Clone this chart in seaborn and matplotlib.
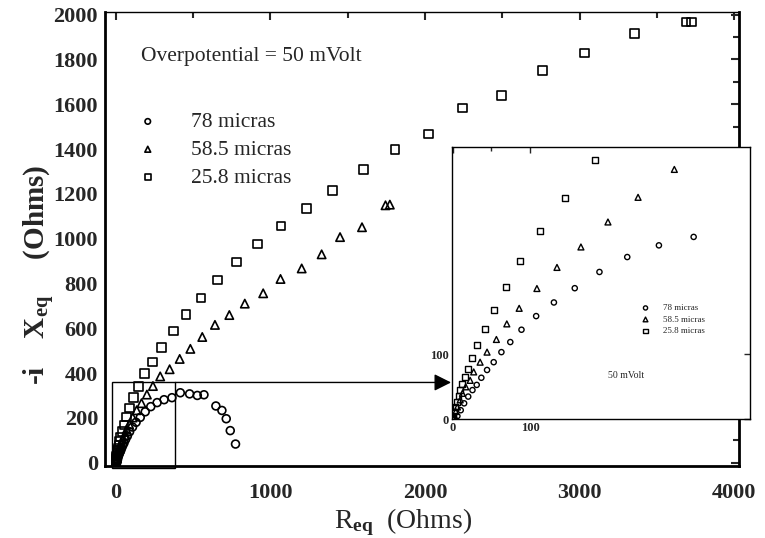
import numpy as np
import pandas as pd
import matplotlib
matplotlib.use('Agg')
import matplotlib.pyplot as plt
import seaborn as sns
from matplotlib.patches import Rectangle
from matplotlib.ticker import MultipleLocator, FixedLocator

sns.set_theme(style='white')
plt.rcParams['font.family'] = ['Liberation Serif', 'DejaVu Serif']
plt.rcParams['mathtext.fontset'] = 'custom'
plt.rcParams['mathtext.rm'] = 'Liberation Serif'
plt.rcParams['mathtext.bf'] = 'Liberation Serif:bold'
plt.rcParams['mathtext.it'] = 'Liberation Serif:italic'
plt.rcParams['axes.edgecolor'] = 'black'

# series names
series = ['78 micras', '58.5 micras', '25.8 micras']

# 78 micras (circulos)
r_78 = [0, 2, 6, 10.3, 14.7, 20, 25.5, 31, 37, 44.4, 53, 63, 74.5, 89, 108, 131, 158, 190,
        226, 267, 312, 363, 417, 477, 527, 570, 647, 686, 714, 740, 774]
x_78 = [0, 1, 5, 14, 24.6, 35, 45, 53, 64, 76, 88, 103.5, 119, 138, 159, 180, 202, 227,
        250, 268, 281, 290, 312, 307, 300, 303, 253, 233, 196, 143, 83]

# 58.5 micras (triangulos)
r_585 = [0.5, 2.2, 3.9, 6, 9.6, 12.5, 16.8, 22.5, 27.1, 35.4, 44.4, 56.5, 70, 86, 109, 135,
         166, 201, 240, 287, 348, 413, 482, 559, 641, 734, 834, 953, 1065, 1202, 1331, 1450,
         1592, 1744, 1772]
x_585 = [0.5, 4, 12, 19, 30, 40, 50, 60, 73, 88, 103.5, 123, 147, 171, 201.5, 234,
         265.5, 304, 342, 385, 417, 463, 508, 561, 615, 659, 710, 756, 820, 867, 930, 1007,
         1051, 1149, 1152]

# 25.8 micras (cuadrados)
r_258 = [0.3, 0.8, 1.8, 3.5, 5.2, 7.4, 9.6, 12.5, 15.5, 20, 24.5, 31.5, 41.9, 53.5, 68.5,
         87.5, 113, 145, 184, 237, 295, 372, 454, 550, 658, 781, 916, 1069, 1234, 1400, 1600,
         1805, 2021, 2243, 2495, 2761, 3032, 3353, 3686, 3724]
x_258 = [1, 5, 12, 19, 27, 36, 45, 55, 65.5, 78, 94, 115, 139, 168, 204,
         244, 290, 341, 399, 450, 514, 587, 661, 735, 816, 895, 977, 1057, 1135, 1216, 1310,
         1399, 1467, 1584, 1640, 1752, 1829, 1917, 1967, 1967]

# el inset solo muestra la zona de alta frecuencia
inset_max_req = 330

df = pd.concat([
    pd.DataFrame({'Req': r_78, 'Xeq': x_78, 'Serie': series[0]}),
    pd.DataFrame({'Req': r_585, 'Xeq': x_585, 'Serie': series[1]}),
    pd.DataFrame({'Req': r_258, 'Xeq': x_258, 'Serie': series[2]}),
], ignore_index=True)

markers = {series[0]: 'o', series[1]: '^', series[2]: 's'}
size_main = {series[0]: 32, series[1]: 36, series[2]: 38}
size_ins = {series[0]: 14, series[1]: 18, series[2]: 18}

W, H = 765, 538
fig = plt.figure(figsize=(W / 100, H / 100), dpi=100)

# ---------------- grafico principal ----------------
ax = fig.add_axes([105 / W, 1 - 466 / H, (739 - 105) / W, (466 - 12) / H])
for s in series:
    sns.scatterplot(data=df[df['Serie'] == s], x='Req', y='Xeq', marker=markers[s],
                    s=size_main[s], facecolor='none', edgecolor='black', linewidth=1.2,
                    ax=ax, label=s, legend=False)

ax.set_xlim(-70, 4030)
ax.set_ylim(-15, 2012)
ax.xaxis.set_major_locator(MultipleLocator(1000))
ax.xaxis.set_minor_locator(MultipleLocator(500))
ax.yaxis.set_major_locator(MultipleLocator(200))
ax.yaxis.set_minor_locator(MultipleLocator(100))
ax.tick_params(which='both', direction='in', top=True, right=True, width=1.5)
ax.tick_params(which='major', length=6, labelsize=16)
ax.tick_params(which='minor', length=4)
ax.tick_params(axis='x', pad=12)
ax.tick_params(axis='y', pad=5)
for lbl in ax.get_xticklabels() + ax.get_yticklabels():
    lbl.set_fontweight('bold')
for side in ['left', 'bottom', 'right']:
    ax.spines[side].set_linewidth(2)
ax.spines['top'].set_linewidth(1)

ax.set_xlabel(r'R$_{\mathbf{eq}}$  (Ohms)', fontsize=20)
ax.set_ylabel(r'-i    X$_{\mathbf{eq}}$     (Ohms)', fontsize=21, fontweight='bold')
ax.xaxis.set_label_coords(0.47, -0.088)
ax.yaxis.set_label_coords(-0.075, 0.42)

fig.text(141 / W, 1 - 57 / H, 'Overpotential = 50 mVolt', fontsize=15.5,
         ha='left', va='center')
ax.legend(loc='upper left', bbox_to_anchor=(137 / W, 1 - 112 / H),
          bbox_transform=fig.transFigure, frameon=False, fontsize=15.5,
          handlelength=1, handletextpad=1.5, labelspacing=0.36, markerscale=0.7,
          borderpad=0, borderaxespad=0)

# recuadro de zoom y flecha
ax.add_patch(Rectangle((-24, -24), 409, 382, fill=False, lw=1, ec='black', clip_on=False))
ax.annotate('', xy=(2168, 358), xytext=(385, 358),
            arrowprops=dict(arrowstyle='-|>,head_length=0.86,head_width=0.43',
                            color='black', lw=1, shrinkA=0, shrinkB=0))

# ---------------- inset ----------------
ins = fig.add_axes([452 / W, 1 - 419.3 / H, (750 - 452) / W, (419.3 - 146.7) / H])
ins.set_facecolor('white')
df_ins = df[df['Req'] <= inset_max_req]
for s in series:
    sns.scatterplot(data=df_ins[df_ins['Serie'] == s], x='Req', y='Xeq', marker=markers[s],
                    s=size_ins[s], facecolor='none', edgecolor='black', linewidth=1.0,
                    ax=ins, label=s, legend=False)
ins.set_xlim(-1, 385)
ins.set_ylim(0, 420)
ins.xaxis.set_major_locator(FixedLocator([0, 100]))
ins.xaxis.set_minor_locator(FixedLocator([50]))
ins.yaxis.set_major_locator(FixedLocator([0, 100]))
ins.tick_params(which='both', direction='in', top=True, right=True, width=1)
ins.tick_params(which='major', length=4, labelsize=9, pad=2)
ins.tick_params(which='minor', length=3)
for lbl in ins.get_xticklabels() + ins.get_yticklabels():
    lbl.set_fontweight('bold')
for side in ins.spines:
    ins.spines[side].set_linewidth(1)
ins.set_xlabel('')
ins.set_ylabel('')
ins.legend(loc='upper left', bbox_to_anchor=(641 / W, 1 - 304 / H),
           bbox_transform=fig.transFigure, frameon=False, fontsize=6.5,
           handlelength=1, handletextpad=1.4, labelspacing=0.35, markerscale=0.8,
           borderpad=0, borderaxespad=0)
fig.text(626 / W, 1 - 375 / H, '50 mVolt', fontsize=7, ha='center', va='center')

fig.savefig('out.png', dpi=100)
